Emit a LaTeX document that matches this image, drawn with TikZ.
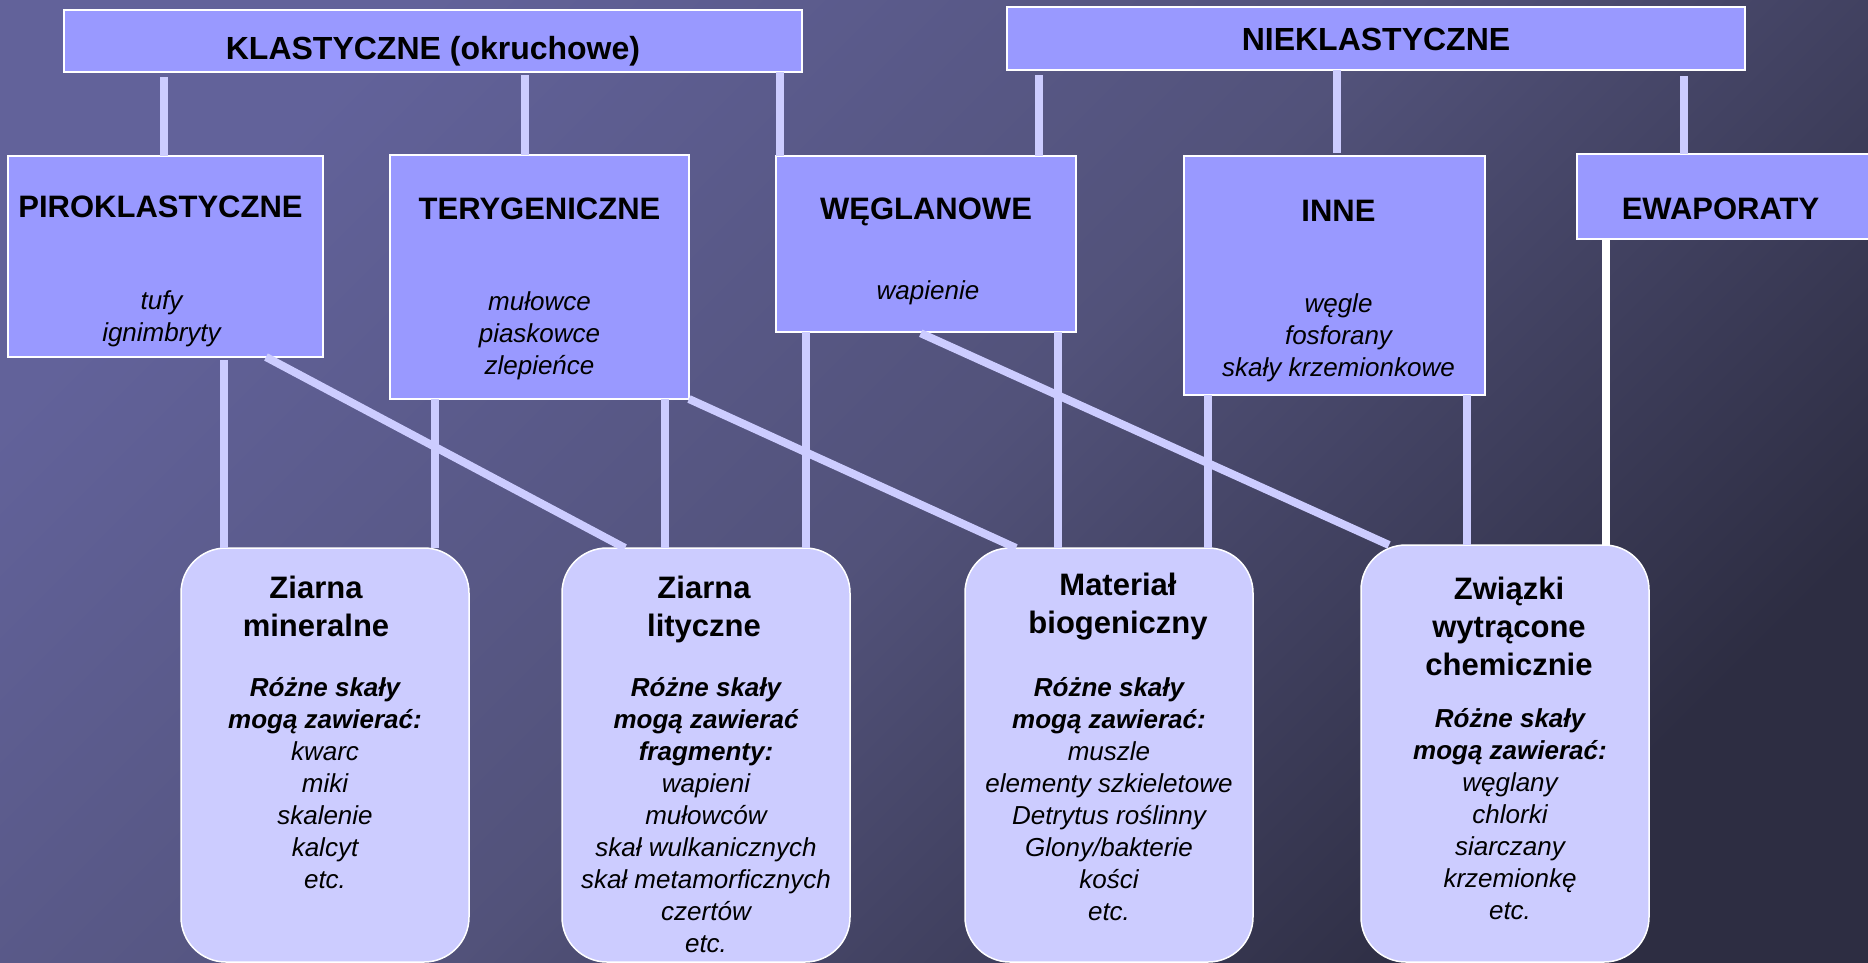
\documentclass[tikz,border=0pt]{standalone}
\usepackage{fontspec}
\setmainfont{Liberation Sans}
\definecolor{bgtl}{HTML}{62629A}
\definecolor{bgmid}{HTML}{52527A}
\definecolor{bgbr}{HTML}{2D2D42}
\definecolor{groupfill}{HTML}{9999FF}
\definecolor{grainfill}{HTML}{CCCCFF}
\definecolor{linkcol}{HTML}{CCCCFF}

\begin{document}
\begin{tikzpicture}
[x=1pt,y=-1pt,%
  every node/.style={inner sep=0pt,outer sep=0pt},%
  head/.style={draw=white,line width=1.5pt,fill=groupfill,anchor=north,%
    font=\fontsize{32}{38}\selectfont\bfseries},%
  group/.style={draw=white,line width=1.5pt,fill=groupfill,anchor=north west},%
  grain/.style={draw=white,line width=1.5pt,fill=grainfill,%
    rounded corners=45pt,anchor=north west},%
  title/.style={font=\fontsize{31}{38}\selectfont\bfseries,align=center},%
  items/.style={font=\fontsize{26}{32}\selectfont\itshape,align=center},%
  link/.style={draw=linkcol,line width=8pt}]
\useasboundingbox (0,0) rectangle (1868,962);
\shade[top color=bgtl,bottom color=bgbr,middle color=bgmid,shading angle=45]
  (0,0) rectangle (1868,962);

\node[head,minimum width=738pt,text height=49pt,text depth=13pt]
  (klast) at (433,10) {KLASTYCZNE (okruchowe)};
\node[head,minimum width=738pt,text height=43pt,text depth=20pt]
  (niek) at (1376,7) {NIEKLASTYCZNE};

\node[group,minimum width=315pt,minimum height=201pt] (piro) at (8,156) {};
\node[group,minimum width=299pt,minimum height=244pt] (tery) at (390,155) {};
\node[group,minimum width=300pt,minimum height=176pt] (weglan) at (776,156) {};
\node[group,minimum width=301pt,minimum height=239pt] (inne) at (1184,156) {};
\node[group,minimum width=293pt,minimum height=85pt] (ewap) at (1577,154) {};

\node[title,anchor=base] (pirotitle) at ([xshift=-5pt,yshift=-61pt]piro.north)
  {PIROKLASTYCZNE};
\node[title,anchor=base] (terytitle) at ([yshift=-64pt]tery.north)
  {TERYGENICZNE};
\node[title,anchor=base] (weglantitle) at ([yshift=-63pt]weglan.north)
  {WĘGLANOWE};
\node[title,anchor=base] (innetitle) at ([xshift=4pt,yshift=-65pt]inne.north)
  {INNE};
\node[title,anchor=base] (ewaptitle) at ([xshift=-3pt,yshift=-65pt]ewap.north)
  {EWAPORATY};

\node[items,anchor=north] (piroitems) at ([xshift=-4pt,yshift=-135pt]piro.north)
  {tufy\\ignimbryty};
\node[items,anchor=north] (teryitems) at ([yshift=-137pt]tery.north)
  {mułowce\\piaskowce\\zlepieńce};
\node[items,anchor=north] (weglanitems) at ([xshift=2pt,yshift=-125pt]weglan.north)
  {wapienie};
\node[items,anchor=north] (inneitems) at ([xshift=4pt,yshift=-138pt]inne.north)
  {węgle\\fosforany\\skały krzemionkowe};

\node[grain,minimum width=288pt,minimum height=414pt] (mineral) at (181,548) {};
\node[grain,minimum width=288pt,minimum height=414pt] (lityczne) at (562,548) {};
\node[grain,minimum width=288pt,minimum height=414pt] (biogen) at (965,548) {};
\node[grain,minimum width=288pt,minimum height=417pt] (chem) at (1361,545) {};

\node[title,anchor=north] (mineraltitle) at ([xshift=-9pt,yshift=-28pt]mineral.north)
  {Ziarna\\mineralne};
\node[title,anchor=north] (litycznetitle) at ([xshift=-2pt,yshift=-28pt]lityczne.north)
  {Ziarna\\lityczne};
\node[title,anchor=north] (biogentitle) at ([xshift=9pt,yshift=-25pt]biogen.north)
  {Materiał\\biogeniczny};
\node[title,anchor=north] (chemtitle) at ([xshift=4pt,yshift=-32pt]chem.north)
  {Związki\\wytrącone\\chemicznie};

\node[items,anchor=north] (mineralbody) at ([yshift=-129pt]mineral.north)
  {\textbf{Różne skały}\\\textbf{mogą zawierać:}\\kwarc\\miki\\skalenie\\kalcyt\\etc.};
\node[items,anchor=north] (litycznebody) at ([yshift=-129pt]lityczne.north)
  {\textbf{Różne skały}\\\textbf{mogą zawierać}\\\textbf{fragmenty:}\\wapieni\\mułowców%
   \\skał wulkanicznych\\skał metamorficznych\\czertów\\etc.};
\node[items,anchor=north] (biogenbody) at ([yshift=-129pt]biogen.north)
  {\textbf{Różne skały}\\\textbf{mogą zawierać:}\\muszle\\elementy szkieletowe%
   \\Detrytus roślinny\\Glony/bakterie\\kości\\etc.};
\node[items,anchor=north] (chembody) at ([xshift=5pt,yshift=-163pt]chem.north)
  {\textbf{Różne skały}\\\textbf{mogą zawierać:}\\węglany\\chlorki\\siarczany%
   \\krzemionkę\\etc.};

\draw[link,shorten <=5pt] (klast.south -| 164,0) -- (piro.north -| 164,0);
\draw[link,shorten <=3pt] (klast.south -| 525,0) -- (tery.north -| 525,0);
\draw[link] (klast.south -| 780,0) -- (weglan.north -| 780,0);
\draw[link,shorten <=5pt] (niek.south -| 1039,0) -- (weglan.north -| 1039,0);
\draw[link,shorten >=3pt] (niek.south -| 1337,0) -- (inne.north -| 1337,0);
\draw[link,shorten <=6pt] (niek.south -| 1684,0) -- (ewap.north -| 1684,0);

\draw[link,shorten <=3pt] (piro.south -| 224,0) -- (mineral.north -| 224,0);
\draw[link] (piro.south -| 266,0) -- (lityczne.north -| 625,0);
\draw[link] (tery.south -| 435,0) -- (mineral.north -| 435,0);
\draw[link] (tery.south -| 665,0) -- (lityczne.north -| 665,0);
\draw[link] (tery.south east) -- (biogen.north -| 1016,0);
\draw[link] (weglan.south -| 806,0) -- (lityczne.north -| 806,0);
\draw[link] (weglan.south -| 1058,0) -- (biogen.north -| 1058,0);
\draw[link,shorten <=3pt] (weglan.south -| 918,0) -- (chem.north -| 1389,0);
\draw[link] (inne.south -| 1208,0) -- (biogen.north -| 1208,0);
\draw[link] (inne.south -| 1467,0) -- (chem.north -| 1467,0);
\draw[link,draw=white] (ewap.south -| 1606,0) -- (chem.north -| 1606,0);
\end{tikzpicture}
\end{document}
